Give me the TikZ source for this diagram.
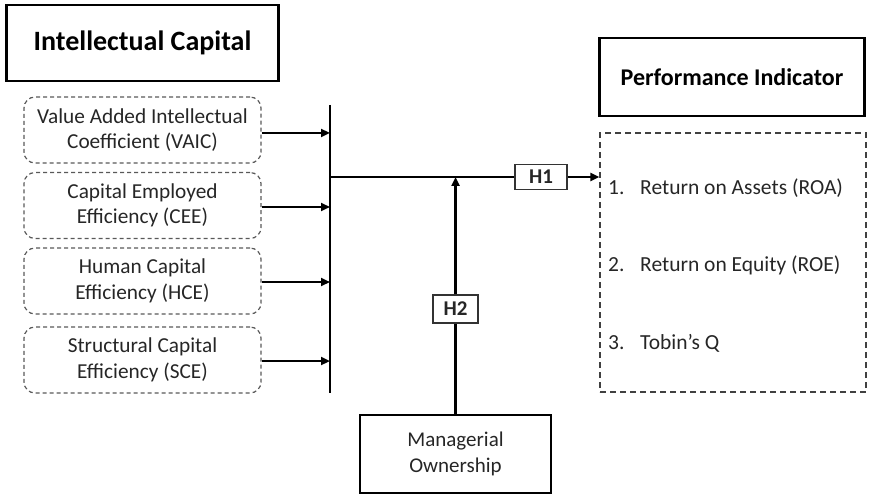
\documentclass[tikz,border=0pt]{standalone}
\usepackage{fontspec}
\setmainfont{Carlito}
\usetikzlibrary{arrows.meta}
\begin{document}
\begin{tikzpicture}[x=1pt,y=-1pt,
  titlebox/.style={draw=black, line width=2.8pt, inner sep=0pt, align=center,
    font=\fontsize{28}{32}\selectfont\bfseries},
  itembox/.style={draw=black!65, line width=1.2pt, dash pattern=on 4pt off 3pt,
    rounded corners=11pt, minimum width=237pt, minimum height=66pt, inner sep=0pt,
    align=center, text=black!85, font=\fontsize{21.3}{25.5}\selectfont},
  hypbox/.style={draw=black!80, line width=1.3pt, fill=white, inner sep=0pt,
    font=\fontsize{21}{24}\selectfont\bfseries, text=black!85},
  listbox/.style={draw=black!75, line width=1.4pt, dash pattern=on 6pt off 4pt,
    inner sep=0pt},
  listitem/.style={anchor=west, inner sep=0pt, text=black!85,
    font=\fontsize{21.5}{25}\selectfont},
  conn/.style={line width=2.4pt, black},
  arr/.style={conn, -{Triangle[length=9pt,width=8pt]}}
]
\useasboundingbox (0,0) rectangle (869,494);

% group headings
\node[titlebox, minimum width=272pt, minimum height=76pt] (ic) at (142.5,43) {Intellectual Capital};
\node[titlebox, minimum width=265pt, minimum height=78pt, font=\fontsize{24}{28}\selectfont\bfseries]
  (pi) at (732,77) {Performance Indicator};

% intellectual capital components
\node[itembox] (vaic) at (142.5,130) {Value Added Intellectual\\Coefficient (VAIC)};
\node[itembox] (cee)  at (142.5,205.5) {Capital Employed\\Efficiency (CEE)};
\node[itembox] (hce)  at (142.5,281) {Human Capital\\Efficiency (HCE)};
\node[itembox] (sce)  at (142.5,360) {Structural Capital\\Efficiency (SCE)};

% collecting bar
\coordinate (bt) at (330,105);
\coordinate (bb) at (330,393);
\coordinate (j) at (330,177);
\draw[conn] (bt) -- (bb);

\foreach \n/\yy in {vaic/133, cee/207, hce/282, sce/361}
  \draw[arr] (\n.east |- 0,\yy) -- (330,\yy);

% performance indicators
\node[listbox, minimum width=266pt, minimum height=259pt] (pl) at (733,262.5) {};
\node[listitem] (roa) at (608,188) {\makebox[32pt][l]{1.}Return on Assets (ROA)};
\node[listitem] (roe) at (608,265) {\makebox[32pt][l]{2.}Return on Equity (ROE)};
\node[listitem] (tq)  at (608,343) {\makebox[32pt][l]{3.}Tobin’s Q};

% hypotheses
\node[hypbox, minimum width=52pt, minimum height=25pt] (h1) at (541,177) {H1};
\draw[conn] (j) -- (h1.west);
\draw[arr] (h1.east) -- (h1.east -| pl.west);

\node[draw=black, line width=2.6pt, minimum width=191pt, minimum height=78pt, inner sep=0pt,
  align=center, text=black!85, font=\fontsize{21}{26}\selectfont]
  (mo) at (455.5,454) {Managerial\\Ownership};
\node[hypbox, minimum width=45pt, minimum height=28pt] (h2) at (455.5,309) {H2};
\draw[conn] (mo.north) -- (h2.south);
\draw[arr] (h2.north) -- (h2.north |- j);
\end{tikzpicture}
\end{document}
